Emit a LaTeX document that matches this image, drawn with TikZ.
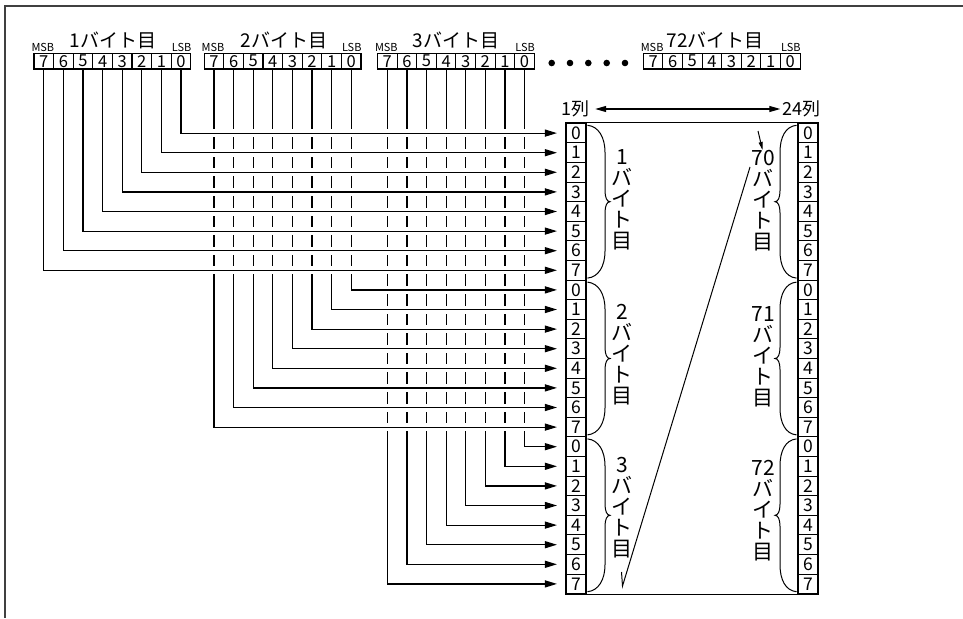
\documentclass[tikz,border=0pt]{standalone}
\usepackage{fontspec}
\setmainfont{Noto Sans CJK JP}
\usetikzlibrary{arrows.meta}
\pgfdeclarelayer{bg}
\pgfsetlayers{bg,main}
\begin{document}
\begin{tikzpicture}[x=1pt,y=-1pt,
  bitbox/.style={draw, line width=1.1pt, minimum width=19.6pt, minimum height=15.6pt, inner sep=0pt, font=\fontsize{16.5}{16.5}\selectfont},
  rowbox/.style={draw, line width=1.1pt, minimum width=20pt, minimum height=19.6pt, inner sep=0pt, font=\fontsize{17.5}{17.5}\selectfont},
  hdr/.style={font=\fontsize{19}{19}\selectfont, anchor=base, inner sep=0pt},
  tag/.style={font=\fontsize{11}{11}\selectfont, inner sep=0pt},
  vt/.style={align=center, font=\fontsize{21}{21}\selectfont, inner sep=0pt},
  collab/.style={font=\fontsize{18}{18}\selectfont, inner sep=0pt},
  dot/.style={circle, fill, minimum size=6.6pt, inner sep=0pt},
  wire/.style={line width=1.2pt, -{Triangle[length=12pt,width=7pt]}, shorten >=8.5pt,
     preaction={draw=white, line width=8pt, -, shorten >=0pt}},
  bracepath/.style={line width=1pt},
]
\useasboundingbox (0,0) rectangle (963,618);

% frame
\draw[line width=1.4pt, black!75] (963,6) -- (5,6) -- (5,618);

% bit boxes
\foreach \b/\x in {1/43.8, 2/214, 3/387.3, 72/653.1} {
  \foreach \k in {0,...,7} {
    \node[bitbox] (b\b-\k) at ({\x+(7-\k)*19.6}, 61.2) {\k};
  }
  \node[tag, anchor=base west] (m\b) at ({\x-12.5}, 52) {MSB};
  \node[tag, anchor=base east] (l\b) at ({\x+7*19.6+10.5}, 52) {LSB};
}
\node[hdr] (h1) at (113,47.5) {1バイト目};
\node[hdr] (h2) at (284,47.5) {2バイト目};
\node[hdr] (h3) at (456,47.5) {3バイト目};
\node[hdr] (h72) at (715,47.5) {72バイト目};

% dots
\foreach \i/\x in {1/551.7, 2/570, 3/588.3, 4/606.7, 5/625} {
  \node[dot] (d\i) at (\x,63) {};
}

% row boxes
\foreach \r in {0,...,23} {
  \pgfmathtruncatemacro\d{mod(\r,8)}
  \pgfmathsetmacro\y{123.3+19.6*(\r+0.5)}
  \node[rowbox] (r\r) at (576,\y) {\d};
  \node[rowbox] (q\r) at (808,\y) {\d};
}
\draw[line width=1.1pt] (r0.north west) -- (q0.north east);
\draw[line width=1.1pt] (r23.south west) -- (q23.south east);

% column labels
\node[collab] (c1) at (575,109) {1列};
\node[collab] (c24) at (801,109) {24列};
\draw[line width=1.1pt, {Triangle[length=11pt,width=6pt]}-{Triangle[length=11pt,width=6pt]}, shorten <=6pt, shorten >=1.5pt] (c1.east) -- (c24.west);

% wires
\begin{pgfonlayer}{bg}
\foreach \b/\o in {3/16, 2/8, 1/0} {
  \foreach \k in {0,...,7} {
    \pgfmathtruncatemacro\rr{\o+\k}
    \draw[wire] (b\b-\k.south) |- (r\rr.west);
  }
}
\end{pgfonlayer}

% braces
\foreach \j in {0,1,2} {
  \pgfmathsetmacro\T{123.3+\j*156.8+2}
  \pgfmathsetmacro\B{123.3+(\j+1)*156.8-2}
  \pgfmathsetmacro\M{123.3+\j*156.8+78.4}
  % left brace (points right)
  \draw[bracepath] (587.5,\T) .. controls (598.5,\T+1) and (605,\T+12) .. (605,\T+27)
     -- (605,\M-11) .. controls (605,\M-4) and (607,\M) .. (610,\M)
     .. controls (607,\M) and (605,\M+4) .. (605,\M+11)
     -- (605,\B-27) .. controls (605,\B-12) and (598.5,\B-1) .. (587.5,\B);
  % right brace (points left)
  \draw[bracepath] (796.5,\T) .. controls (785.5,\T+1) and (780,\T+12) .. (780,\T+27)
     -- (780,\M-11) .. controls (780,\M-4) and (778,\M) .. (775,\M)
     .. controls (778,\M) and (780,\M+4) .. (780,\M+11)
     -- (780,\B-27) .. controls (780,\B-12) and (785.5,\B-1) .. (796.5,\B);
}

% vertical texts
\node[vt] (t1) at (622,200) {1\\バ\\イ\\ト\\目};
\node[vt] (t2) at (622,355) {2\\バ\\イ\\ト\\目};
\node[vt] (t3) at (622,508) {3\\バ\\イ\\ト\\目};
\node[vt] (t70) at (763,201) {70\\バ\\イ\\ト\\目};
\node[vt] (t71) at (763,357) {71\\バ\\イ\\ト\\目};
\node[vt] (t72) at (763,511) {72\\バ\\イ\\ト\\目};

% scan line
\coordinate (dA) at (621.5,572);
\coordinate (dB) at (622.5,586);
\coordinate (dC) at (750,167);
\draw[line width=1pt] (dA) -- (dB) -- (dC);
\coordinate (sA) at (758,131);
\coordinate (sB) at (762.5,150);
\draw[line width=1pt, -{Triangle[length=8pt,width=4pt]}] (sA) -- (sB);
\end{tikzpicture}
\end{document}
